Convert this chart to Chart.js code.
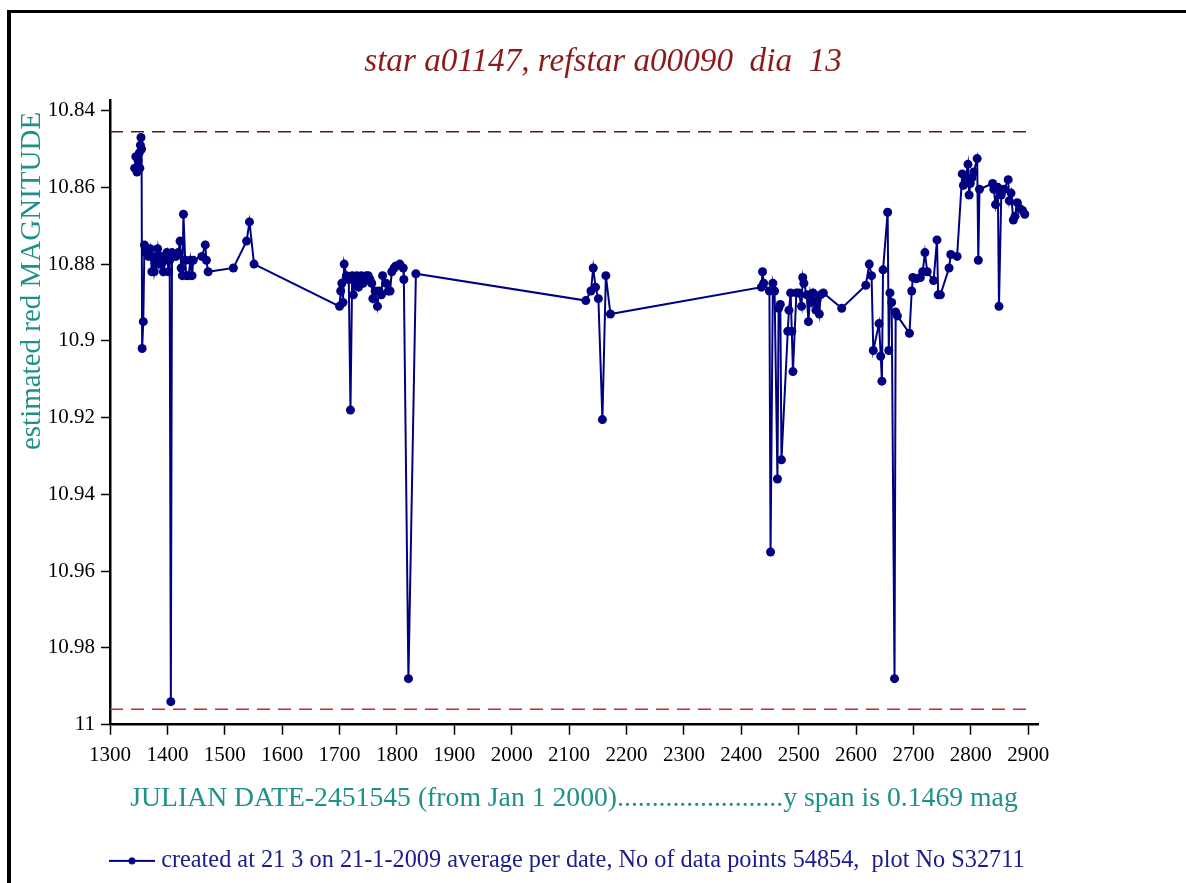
<!DOCTYPE html>
<html>
<head>
<meta charset="utf-8">
<script src="https://cdn.jsdelivr.net/npm/chart.js@4.4.0/dist/chart.umd.min.js"></script>
<style>
html,body{margin:0;padding:0;background:#fff;}
#wrap{position:relative;width:1186px;height:883px;overflow:hidden;background:#fff;}
#frame{position:absolute;left:7px;top:10px;width:1400px;height:1000px;border-top:3px solid #000;border-left:4px solid #000;}
#c{position:absolute;left:0;top:0;}
</style>
</head>
<body>
<div id="wrap"><div id="frame"></div><canvas id="c" width="1186" height="883"></canvas></div>
<script>
// Julian date - 2451545 (days) and estimated red magnitude, one value per date
const days = [
  1343,1345,1347,1349,1351,1352,1353,1354,1355,1356,1358,1360,1362,1364,1367,1370,1373,1375,1377,1380,
  1383,1385,1388,1390,1393,1396,1399,1402,1404,1406,1408,1411,1415,1419,1422,1424,1426,1428,1431,1433,
  1437,1440,1443,1445,1460,1466,1468,1471,1515,1538,1543,1551,
  1700,1702,1704,1706,1708,1712,1716,1719,1722,1724,1727,1730,1733,1736,1738,1741,1744,1747,1750,1753,
  1756,1758,1762,1766,1769,1773,1775,1781,1785,1788,1791,1795,1798,1805,1811,1812,1820,1833,
  2129,2138,2142,2146,2151,2158,2164,2172,
  2435,2437,2439,2449,2451,2455,2458,2463,2465,2468,2470,2481,2483,2486,2488,2490,2496,2500,2505,2507,
  2509,2514,2517,2520,2522,2525,2530,2532,2536,2538,2543,2575,
  2617,2623,2627,2630,2640,2643,2645,2647,2655,2657,2659,2662,2667,2669,2672,2693,2697,2699,2705,2712,
  2716,2720,2724,2735,2741,2743,2747,2762,2765,2776,
  2785,2787,2791,2795,2797,2799,2802,2805,2811,2813,2815,2838,2840,2843,2847,2849,2853,2858,2865,2867,
  2870,2874,2877,2881,2885,2890,2894
];
const mags = [
  10.855,10.852,10.856,10.853,10.851,10.855,10.849,10.847,10.850,10.902,10.895,10.875,10.877,10.876,10.878,10.876,10.882,10.878,10.882,10.879,
  10.876,10.880,10.878,10.880,10.882,10.879,10.877,10.882,10.879,10.994,10.877,10.878,10.878,10.877,10.874,10.881,10.883,10.867,10.879,10.883,
  10.883,10.879,10.883,10.879,10.878,10.875,10.879,10.882,10.881,10.874,10.869,10.880,
  10.891,10.887,10.885,10.890,10.880,10.883,10.884,10.918,10.883,10.888,10.884,10.883,10.886,10.884,10.883,10.885,10.884,10.883,10.883,10.884,
  10.885,10.889,10.887,10.891,10.887,10.888,10.883,10.885,10.887,10.887,10.882,10.881,10.8805,10.880,10.881,10.884,10.988,10.8825,
  10.8895,10.887,10.881,10.886,10.889,10.9205,10.883,10.893,
  10.886,10.882,10.885,10.887,10.955,10.885,10.887,10.936,10.8915,10.8905,10.931,10.8975,10.892,10.8875,10.8975,10.908,10.8875,10.8875,10.891,10.8835,
  10.885,10.888,10.895,10.888,10.890,10.8875,10.892,10.8895,10.893,10.888,10.8875,10.8915,
  10.8855,10.880,10.883,10.9025,10.8955,10.904,10.9105,10.8815,10.8665,10.9025,10.8875,10.890,10.988,10.8925,10.8935,10.898,10.887,10.8835,10.8838,10.8835,
  10.882,10.877,10.882,10.8843,10.8737,10.888,10.888,10.881,10.8775,10.878,
  10.8565,10.8595,10.8575,10.854,10.862,10.859,10.8575,10.856,10.8525,10.879,10.8605,10.859,10.8605,10.8645,10.860,10.891,10.862,10.8605,10.858,10.8635,
  10.8615,10.8685,10.8675,10.864,10.8655,10.866,10.867
];
// reference limit lines (dashed)
const limitDays = [1300, 2900];
const upperLimit = [10.8455, 10.8455];
const lowerLimit = [10.996, 10.996];

const titleText = 'star a01147, refstar a00090  dia  13';
const xTitle = 'JULIAN DATE-2451545 (from Jan 1 2000)........................y span is 0.1469 mag';
const yTitle = 'estimated red MAGNITUDE';
const legendText = 'created at 21 3 on 21-1-2009 average per date, No of data points 54854,  plot No S32711';

const SERIF = "'Liberation Serif','Times New Roman',serif";
const NAVY = '#000080';
const TEAL = '#1f918a';

// legend symbol: line with a dot
const sym = document.createElement('canvas');
sym.width = 46; sym.height = 10;
(function(){
  const g = sym.getContext('2d');
  g.strokeStyle = NAVY; g.lineWidth = 2;
  g.beginPath(); g.moveTo(0,5); g.lineTo(46,5); g.stroke();
  g.fillStyle = NAVY; g.beginPath(); g.arc(23,5,3.5,0,Math.PI*2); g.fill();
})();

const shiftPlugin = {
  id: 'shiftBoxes',
  afterLayout(chart) {
    const t = chart.titleBlock;
    if (t) { const dx = 603 - (t.left + t.right) / 2; t.left += dx; t.right += dx; }
    const lg = chart.legend;
    if (lg) { const dx = 115 - (lg.left + lg.options.labels.padding); lg.left += dx; lg.right += dx; }
    const ya = chart.scales.yTitleAxis;
    if (ya) { ya.top += 12; ya.bottom += 12; }
  }
};

new Chart(document.getElementById('c'), {
  type: 'line',
  data: {
    datasets: [
      {
        label: legendText,
        data: days.map((d, i) => ({x: d, y: mags[i]})),
        borderColor: NAVY,
        backgroundColor: NAVY,
        borderWidth: 2,
        pointRadius: 4.5,
        pointBorderWidth: 0,
        pointBackgroundColor: NAVY,
        tension: 0,
        order: 1
      },
      {
        label: 'upper',
        data: limitDays.map((d, i) => ({x: d, y: upperLimit[i]})),
        borderColor: '#5e1616',
        borderWidth: 1.4,
        borderDash: [13, 8],
        pointRadius: 0,
        order: 2
      },
      {
        label: 'lower',
        data: limitDays.map((d, i) => ({x: d, y: lowerLimit[i]})),
        borderColor: '#c82828',
        borderWidth: 1.5,
        borderDash: [13, 8],
        pointRadius: 0,
        order: 2
      }
    ]
  },
  options: {
    responsive: false,
    animation: false,
    events: [],
    layout: {padding: {left: 0, right: 148, top: 0, bottom: 0}},
    scales: {
      x: {
        type: 'linear',
        min: 1300,
        max: 2917,
        afterFit: s => { s.height = 114; },
        ticks: {
          stepSize: 100,
          includeBounds: false,
          autoSkip: false,
          maxRotation: 0,
          padding: 8,
          color: '#000',
          font: {family: SERIF, size: 21},
          callback: v => String(v)
        },
        grid: {display: true, drawOnChartArea: false, drawTicks: true, tickLength: 10, tickColor: '#000', tickWidth: 1.5},
        border: {display: true, color: '#000', width: 2.5},
        title: {
          display: true,
          text: xTitle,
          color: TEAL,
          font: {family: SERIF, size: 27.7},
          padding: {top: 0, bottom: 23}
        }
      },
      y: {
        type: 'linear',
        position: 'left',
        weight: 0,
        reverse: true,
        min: 10.8372,
        max: 11.0,
        afterFit: s => { s.width = 65; },
        ticks: {
          stepSize: 0.02,
          includeBounds: false,
          padding: 6,
          color: '#000',
          font: {family: SERIF, size: 21},
          callback: v => String(+(+v).toFixed(2))
        },
        grid: {display: true, drawOnChartArea: false, drawTicks: true, tickLength: 9, tickColor: '#000', tickWidth: 1.5},
        border: {display: true, color: '#000', width: 2.5},
        title: {display: false}
      },
      yTitleAxis: {
        type: 'linear',
        axis: 'y',
        position: 'left',
        weight: 1,
        display: true,
        afterFit: s => { s.width = 45; },
        ticks: {display: false},
        grid: {display: false, drawTicks: false},
        border: {display: false},
        title: {
          display: true,
          text: yTitle,
          align: 'end',
          color: TEAL,
          font: {family: SERIF, size: 29},
          padding: {top: 15, bottom: 0}
        }
      }
    },
    plugins: {
      title: {
        display: true,
        text: titleText,
        color: '#8b1a1a',
        font: {family: SERIF, size: 33.2, style: 'italic', weight: 'normal'},
        padding: {top: 42, bottom: 18}
      },
      legend: {
        display: true,
        position: 'bottom',
        align: 'start',
        labels: {
          usePointStyle: true,
          pointStyleWidth: 34,
          padding: 10,
          color: '#1c1c8c',
          font: {family: SERIF, size: 24.3},
          generateLabels: chart => {
            const items = Chart.defaults.plugins.legend.labels.generateLabels(chart)
              .filter(it => it.datasetIndex === 0);
            items.forEach(it => { it.pointStyle = sym; it.fontColor = '#1c1c8c'; it.lineWidth = 0; });
            return items;
          }
        }
      },
      tooltip: {enabled: false}
    }
  },
  plugins: [shiftPlugin]
});
</script>
</body>
</html>
